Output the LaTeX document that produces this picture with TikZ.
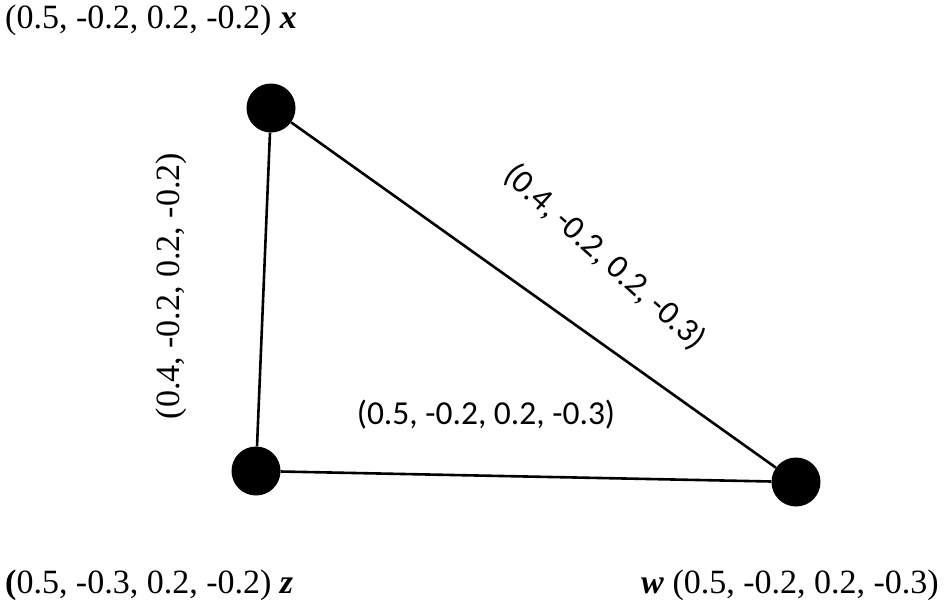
\documentclass[tikz,border=0pt]{standalone}
\usepackage{fontspec}
\setmainfont{Liberation Serif}
\newfontfamily\calib{Carlito}
\begin{document}
\begin{tikzpicture}[x=1pt,y=-1pt,
  vertex/.style={circle,fill=black,minimum size=49pt,inner sep=0pt},
  edge/.style={line width=2.6pt,black},
  serlab/.style={inner sep=0pt,font=\fontsize{34}{37}\selectfont},
  sanslab/.style={inner sep=0pt,font=\calib\fontsize{33.5}{36}\selectfont}]
\useasboundingbox (0,0) rectangle (945,608);
\node[vertex] (x) at (271,108) {};
\node[vertex] (z) at (256,471) {};
\node[vertex] (w) at (796,482) {};
\draw[edge] (x) -- (z);
\draw[edge] (x) -- (w);
\draw[edge] (z) -- (w);
\node[serlab,anchor=base west] (lx) at (5,28) {(0.5, -0.2, 0.2, -0.2) \textbf{\textit{x}}};
\node[serlab,anchor=base west] (lz) at (5,593) {\textbf{(}0.5, -0.3, 0.2, -0.2) \textbf{\textit{z}}};
\node[serlab,anchor=base east] (lw) at (939,593) {\textbf{\textit{w}} (0.5, -0.2, 0.2, -0.3)};
\node[serlab,rotate=90] (lxz) at (171,286) {(0.4, -0.2, 0.2, -0.2)};
\node[sanslab] (lzw) at (486,415) {(0.5, -0.2, 0.2, -0.3)};
\node[sanslab,rotate=-42] (lxw) at (605,257) {(0.4, -0.2, 0.2, -0.3)};
\end{tikzpicture}
\end{document}
